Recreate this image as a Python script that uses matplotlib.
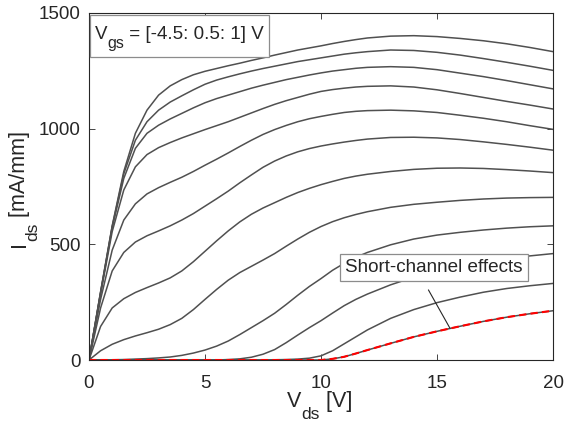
import matplotlib.pyplot as plt
from matplotlib.patches import Rectangle
from matplotlib.transforms import IdentityTransform

plt.rcParams['font.family'] = ['Liberation Sans', 'DejaVu Sans']

TXT = '#262626'

# drain voltage grid [V]
vds = [0, 0.5, 1, 1.5, 2, 2.5, 3, 3.5, 4, 4.5, 5, 5.5, 6, 6.5, 7, 7.5, 8, 8.5,
       9, 9.5, 10, 10.5, 11, 11.5, 12, 13, 14, 15, 16, 17, 18, 19, 20]

# gate voltages [V], top curve first
vgs = [1.0, 0.5, 0.0, -0.5, -1.0, -1.5, -2.0, -2.5, -3.0, -3.5, -4.0, -4.5]

# drain current [mA/mm] for each gate voltage
ids_p1p0 = [0, 295, 580, 815, 980, 1080, 1145, 1185, 1212, 1233, 1248, 1260, 1272, 1283,
            1295, 1306, 1318, 1329, 1340, 1349, 1358, 1368, 1377, 1385, 1392,
            1400, 1402, 1398, 1390, 1380, 1367, 1351, 1333]
ids_p0p5 = [0, 293, 577, 805, 950, 1030, 1080, 1115, 1142, 1168, 1192, 1210, 1224, 1237,
            1249, 1260, 1270, 1280, 1290, 1298, 1306, 1314, 1322, 1328, 1333,
            1340, 1338, 1330, 1318, 1303, 1287, 1270, 1252]
ids_0p0 = [0, 290, 572, 785, 915, 980, 1015, 1042, 1066, 1090, 1112, 1130, 1145, 1160,
           1175, 1188, 1200, 1212, 1222, 1232, 1241, 1249, 1255, 1261, 1265,
           1268, 1265, 1255, 1240, 1225, 1208, 1190, 1172]
ids_m0p5 = [0, 285, 555, 735, 835, 888, 918, 940, 960, 978, 996, 1013, 1030, 1049,
            1068, 1087, 1105, 1121, 1135, 1149, 1161, 1169, 1175, 1180, 1183,
            1185, 1180, 1168, 1152, 1135, 1118, 1102, 1085]
ids_m1p0 = [0, 262, 475, 605, 675, 718, 745, 768, 790, 815, 842, 868, 895, 923,
            950, 975, 996, 1014, 1030, 1043, 1053, 1062, 1070, 1075, 1078,
            1080, 1077, 1070, 1058, 1045, 1030, 1013, 997]
ids_m1p5 = [0, 225, 385, 465, 510, 537, 558, 580, 605, 633, 665, 697, 730, 766,
            800, 833, 860, 882, 900, 914, 925, 934, 942, 949, 955,
            962, 963, 960, 953, 943, 932, 920, 907]
ids_m2p0 = [0, 145, 225, 265, 292, 313, 333, 355, 385, 425, 470, 515, 558, 597,
            630, 657, 680, 703, 724, 742, 758, 772, 785, 795, 803,
            815, 824, 829, 830, 828, 823, 817, 810]
ids_m2p5 = [0, 40, 68, 88, 104, 118, 133, 153, 180, 218, 262, 305, 345, 378,
            405, 432, 460, 492, 523, 552, 577, 598, 615, 629, 641,
            660, 673, 682, 690, 696, 700, 702, 703]
ids_m3p0 = [0, 0, 1, 2, 4, 6, 9, 13, 20, 30, 43, 60, 82, 110,
            140, 170, 202, 240, 280, 318, 352, 388, 418, 444, 465,
            498, 523, 540, 552, 562, 570, 576, 580]
ids_m3p5 = [0, 0, 0, 0, 0, 0, 0, 0, 0, 0, 0, 0, 2, 5,
            12, 25, 45, 75, 108, 140, 170, 203, 235, 262, 285,
            325, 358, 385, 405, 422, 437, 450, 460]
ids_m4p0 = [0, 0, 0, 0, 0, 0, 0, 0, 0, 0, 0, 0, 0, 0,
            0, 0, 1, 2, 4, 8, 18, 40, 70, 100, 130,
            180, 218, 248, 272, 293, 309, 321, 331]
ids_m4p5 = [0, 0, 0, 0, 0, 0, 0, 0, 0, 0, 0, 0, 0, 0,
            0, 0, 0, 0, 0, 0, 0, 5, 14, 28, 43,
            72, 100, 124, 146, 167, 185, 200, 213]

curves = [ids_p1p0, ids_p0p5, ids_0p0, ids_m0p5, ids_m1p0, ids_m1p5,
          ids_m2p0, ids_m2p5, ids_m3p0, ids_m3p5, ids_m4p0, ids_m4p5]

fig = plt.figure(figsize=(5.65, 4.22), dpi=100)
ax = fig.add_axes([0.1575, 0.1469, 0.8213, 0.8223])

for ids in curves:
    ax.plot(vds, ids, color='#505050', lw=1.1)

# lowest gate bias highlighted
ax.plot(vds, ids_m4p5, color='red', lw=1.5, dashes=(3.5, 2))

ax.set_xlim(0, 20)
ax.set_ylim(0, 1500)
ax.set_xticks([0, 5, 10, 15, 20])
ax.set_yticks([0, 500, 1000, 1500])
ax.tick_params(direction='in', top=True, right=True, length=4, width=0.6,
               labelsize=13.5, colors=TXT)
ax.tick_params(axis='x', pad=11)
ax.tick_params(axis='y', pad=6)
for sp in ax.spines.values():
    sp.set_color(TXT)
    sp.set_linewidth(0.8)


def sub_text(x, y, parts, rotation=0):
    """Write text pieces one after another in pixel coords; parts = (text, size, drop_px)."""
    r = fig.canvas.get_renderer()
    pos = x if rotation == 0 else y
    for s, size, drop in parts:
        if rotation == 0:
            t = fig.text(pos, y - drop, s, fontsize=size, color=TXT, ha='left',
                         va='baseline', transform=IdentityTransform())
            pos += t.get_window_extent(r).width
        else:
            t = fig.text(x + drop, pos, s, fontsize=size, color=TXT, ha='left',
                         va='baseline', rotation=90, rotation_mode='anchor',
                         transform=IdentityTransform())
            pos += t.get_window_extent(r).height


# axis labels with MATLAB-style subscripts
sub_text(287, 15, [('V', 15.5, 0), ('ds', 12.5, 12), (' [V]', 15.5, 0)])
sub_text(25, 175, [('I', 15.5, 0), ('ds', 12.5, 12), (' [mA/mm]', 15.5, 0)], rotation=90)

# gate sweep box
ax.add_patch(Rectangle((0.002, 0.873), 0.386, 0.121, transform=ax.transAxes,
                       fc='white', ec='#8c8c8c', lw=0.9, zorder=5))
sub_text(95, 383, [('V', 13.5, 0), ('gs', 11.5, 9), (' = [-4.5: 0.5: 1] V', 13.5, 0)])

ax.text(14.87, 400, 'Short-channel effects', ha='center', va='center',
        fontsize=13.6, color=TXT, zorder=6,
        bbox=dict(boxstyle='square,pad=0.26', fc='white', ec='#8c8c8c', lw=0.9))
ax.annotate('', xy=(15.56, 137), xytext=(14.63, 303),
            arrowprops=dict(arrowstyle='-', color=TXT, lw=0.8, shrinkA=0, shrinkB=0))

fig.savefig('out.png', dpi=100)
